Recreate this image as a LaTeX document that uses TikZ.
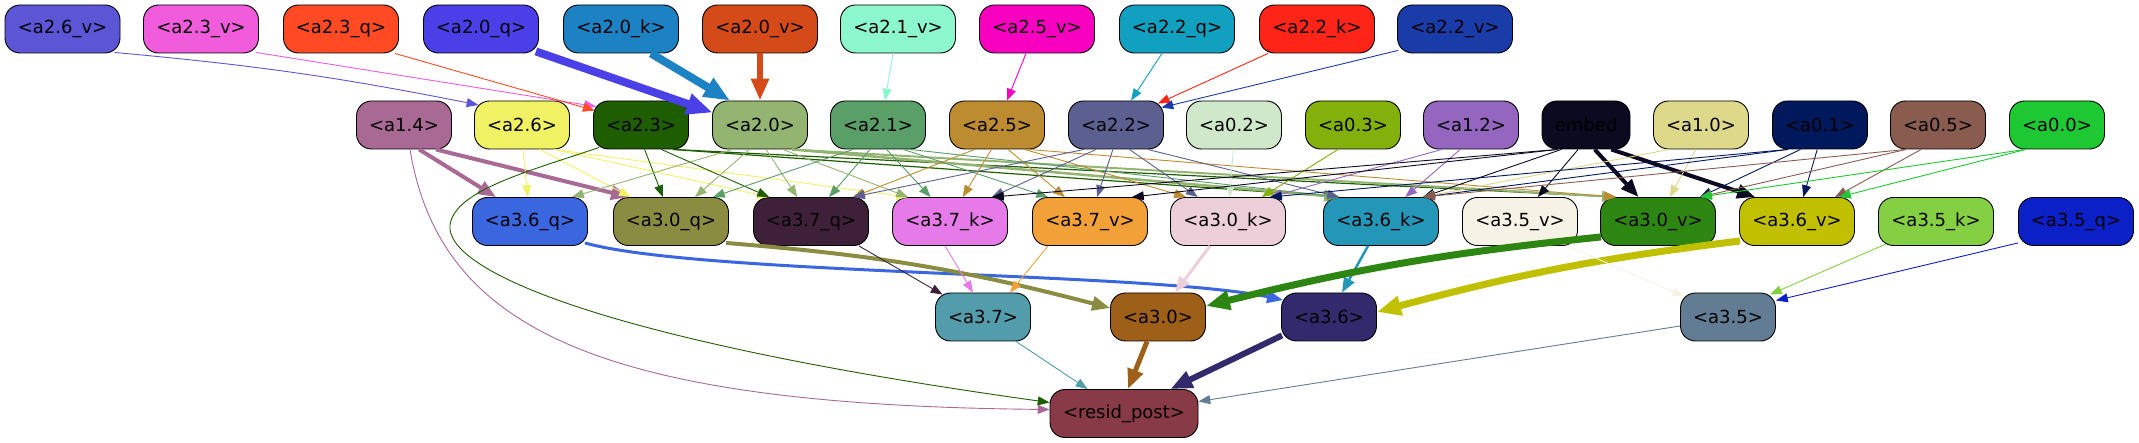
\documentclass[tikz,border=0pt]{standalone}
\usepackage{fontspec}
\setmainfont{DejaVu Sans}
\usetikzlibrary{arrows.meta,calc}
\definecolor{c26v}{HTML}{5C56D6}
\definecolor{c23v}{HTML}{F05CDC}
\definecolor{c23q}{HTML}{FF4A24}
\definecolor{c20q}{HTML}{4B3FE8}
\definecolor{c20k}{HTML}{1C82C4}
\definecolor{c20v}{HTML}{D44A18}
\definecolor{c21v}{HTML}{8CF6CC}
\definecolor{c25v}{HTML}{F800C0}
\definecolor{c22q}{HTML}{12A0C0}
\definecolor{c22k}{HTML}{FF2418}
\definecolor{c22v}{HTML}{1A3CA8}
\definecolor{c14}{HTML}{A86A94}
\definecolor{c26}{HTML}{F0F264}
\definecolor{c23}{HTML}{1E5E00}
\definecolor{c20}{HTML}{94B472}
\definecolor{c21}{HTML}{5A9E68}
\definecolor{c25}{HTML}{BE8C30}
\definecolor{c22}{HTML}{5C6090}
\definecolor{c02}{HTML}{D0E8CA}
\definecolor{c03}{HTML}{84B00C}
\definecolor{c12}{HTML}{9466C0}
\definecolor{cemb}{HTML}{0C0A20}
\definecolor{c10}{HTML}{DED88A}
\definecolor{c01}{HTML}{00185C}
\definecolor{c05}{HTML}{8A5C50}
\definecolor{c00}{HTML}{1EC832}
\definecolor{c36q}{HTML}{3A66E0}
\definecolor{c30q}{HTML}{8A8C42}
\definecolor{c37q}{HTML}{3E2038}
\definecolor{c37k}{HTML}{E67AE8}
\definecolor{c37v}{HTML}{F2A038}
\definecolor{c30k}{HTML}{ECCFD8}
\definecolor{c36k}{HTML}{2496B8}
\definecolor{c35v}{HTML}{F6F2E6}
\definecolor{c30v}{HTML}{2E8612}
\definecolor{c36v}{HTML}{C0C000}
\definecolor{c35k}{HTML}{84D042}
\definecolor{c35q}{HTML}{0C20C8}
\definecolor{c37}{HTML}{529CAC}
\definecolor{c30}{HTML}{9E6018}
\definecolor{c36}{HTML}{322A6C}
\definecolor{c35}{HTML}{627C94}
\definecolor{cres}{HTML}{883A46}
\newcommand\edgeX[4][0.9pt]{%
 \draw[ed=#1, draw=#2] let \p1=(#3.south), \p2=(#4.north), \p3=(#3.south east), \p4=(#4.north east),
   \n1={max(min(0.12*(\x2-\x1),\x3-\x1-16),\x1-\x3+16)},
   \n2={max(min(-0.27*(\x2-\x1),\x4-\x2-16),\x2-\x4+16)}
   in (\x1+\n1,\y1) -- (\x2+\n2,\y2);}
\begin{document}
\begin{tikzpicture}[x=1pt,y=1pt,
  nd/.style={draw=black, line width=0.9pt, rounded corners=15pt, minimum height=48pt, inner sep=0pt, text=black, font=\fontsize{18}{21}\selectfont},
  wq/.style={nd, minimum width=115pt},
  wr/.style={nd, minimum width=95pt},
  ed/.style={line width=#1, -{Triangle[length=10pt 2, width=7.5pt 1.6]}}]
\useasboundingbox (0,0) rectangle (2139,-443);
% row 1
\node[wq, fill=c26v] (v26) at (62.5,-29) {<a2.6\_v>};
\node[wq, fill=c23v] (v23) at (201,-29) {<a2.3\_v>};
\node[wq, fill=c23q] (q23) at (341,-29) {<a2.3\_q>};
\node[wq, fill=c20q] (q20) at (481,-29) {<a2.0\_q>};
\node[wq, fill=c20k] (k20) at (621,-29) {<a2.0\_k>};
\node[wq, fill=c20v] (v20) at (760,-29) {<a2.0\_v>};
\node[wq, fill=c21v] (v21) at (898,-29) {<a2.1\_v>};
\node[wq, fill=c25v] (v25) at (1037,-29) {<a2.5\_v>};
\node[wq, fill=c22q] (q22) at (1177,-29) {<a2.2\_q>};
\node[wq, fill=c22k] (k22) at (1317,-29) {<a2.2\_k>};
\node[wq, fill=c22v] (v22) at (1455,-29) {<a2.2\_v>};
% row 2
\node[wr, fill=c14] (n14) at (404,-125) {<a1.4>};
\node[wr, fill=c26] (n26) at (522,-125) {<a2.6>};
\node[wr, fill=c23] (n23) at (641,-125) {<a2.3>};
\node[wr, fill=c20] (n20) at (760,-125) {<a2.0>};
\node[wr, fill=c21] (n21) at (878,-125) {<a2.1>};
\node[wr, fill=c25] (n25) at (997,-125) {<a2.5>};
\node[wr, fill=c22] (n22) at (1116,-125) {<a2.2>};
\node[wr, fill=c02] (n02) at (1234,-125) {<a0.2>};
\node[wr, fill=c03] (n03) at (1353,-125) {<a0.3>};
\node[wr, fill=c12] (n12) at (1471,-125) {<a1.2>};
\node[nd, minimum width=88pt, fill=cemb] (emb) at (1586,-125) {embed};
\node[wr, fill=c10] (n10) at (1701,-125) {<a1.0>};
\node[wr, fill=c01] (n01) at (1820,-125) {<a0.1>};
\node[wr, fill=c05] (n05) at (1938,-125) {<a0.5>};
\node[wr, fill=c00] (n00) at (2057,-125) {<a0.0>};
% row 3
\node[wq, fill=c36q] (q36) at (530,-221.5) {<a3.6\_q>};
\node[wq, fill=c30q] (q30) at (671,-221.5) {<a3.0\_q>};
\node[wq, fill=c37q] (q37) at (811,-221.5) {<a3.7\_q>};
\node[wq, fill=c37k] (k37) at (950,-221.5) {<a3.7\_k>};
\node[wq, fill=c37v] (v37) at (1090,-221.5) {<a3.7\_v>};
\node[wq, fill=c30k] (k30) at (1228,-221.5) {<a3.0\_k>};
\node[wq, fill=c36k] (k36) at (1381,-221.5) {<a3.6\_k>};
\node[wq, fill=c35v] (v35) at (1520,-221.5) {<a3.5\_v>};
\node[wq, fill=c30v] (v30) at (1658,-221.5) {<a3.0\_v>};
\node[wq, fill=c36v] (v36) at (1797,-221.5) {<a3.6\_v>};
\node[wq, fill=c35k] (k35) at (1936,-221.5) {<a3.5\_k>};
\node[wq, fill=c35q] (q35) at (2076,-221.5) {<a3.5\_q>};
% row 4
\node[wr, fill=c37] (n37) at (983,-317) {<a3.7>};
\node[wr, fill=c30] (n30) at (1158,-317) {<a3.0>};
\node[wr, fill=c36] (n36) at (1329,-317) {<a3.6>};
\node[wr, fill=c35] (n35) at (1728,-317) {<a3.5>};
\node[nd, minimum width=148pt, fill=cres] (res) at (1124,-413.5) {<resid\_post>};
% row1 -> row2
\draw[ed=0.9pt, draw=c26v] ([xshift=-6pt,yshift=1pt]v26.south east) to[bend left=3] ([xshift=4.4pt,yshift=-4.4pt]n26.north west);
\draw[ed=0.9pt, draw=c23v] ([xshift=-3pt,yshift=1pt]v23.south east) -- ([xshift=3pt,yshift=-6pt]n23.north west);
\draw[ed=0.9pt, draw=c23q] ([xshift=-4pt]q23.south east) -- ([xshift=1.6pt,yshift=-10pt]n23.north west);
\draw[ed=8pt, draw=c20q] ([xshift=-3pt,yshift=2pt]q20.south east) -- ([xshift=0.5pt,yshift=-12pt]n20.north west);
\draw[ed=8pt, draw=c20k] ([xshift=30pt]k20.south) -- ([xshift=-30pt]n20.north);
\draw[ed=6pt, draw=c20v] (v20.south) -- (n20.north);
\draw[ed=0.9pt, draw=c21v] ([xshift=-5pt]v21.south) -- ([xshift=7pt]n21.north);
\draw[ed=0.9pt, draw=c25v] ([xshift=-11pt]v25.south) -- ([xshift=10pt]n25.north);
\draw[ed=0.9pt, draw=c22q] ([xshift=-15pt]q22.south) -- ([xshift=15pt]n22.north);
\draw[ed=0.9pt, draw=c22k] ([xshift=-49pt]k22.south) -- ([xshift=-6pt,yshift=-3pt]n22.north east);
\draw[ed=0.9pt, draw=c22v] ([xshift=1pt,yshift=3pt]v22.south west) -- ([xshift=-2.5pt,yshift=-7pt]n22.north east);
% row2 -> row3
\edgeX[4pt]{c14}{n14}{q36}
\edgeX[4pt]{c14}{n14}{q30}
\edgeX{c26}{n26}{q36}
\edgeX{c26}{n26}{q30}
\edgeX{c26}{n26}{q37}
\edgeX{c26}{n26}{k37}
\edgeX{c23}{n23}{q30}
\edgeX{c23}{n23}{q37}
\edgeX[1.2pt]{c23}{n23}{k36}
\edgeX[1.2pt]{c23}{n23}{v30}
\edgeX{c20}{n20}{q36}
\edgeX{c20}{n20}{q30}
\edgeX{c20}{n20}{q37}
\edgeX{c20}{n20}{k37}
\edgeX[2.5pt]{c20}{n20}{k36}
\edgeX[2pt]{c20}{n20}{v30}
\edgeX{c21}{n21}{q30}
\edgeX{c21}{n21}{q37}
\edgeX{c21}{n21}{k37}
\edgeX{c21}{n21}{v37}
\edgeX{c21}{n21}{k36}
\edgeX{c25}{n25}{q37}
\edgeX{c25}{n25}{k37}
\edgeX{c25}{n25}{v37}
\edgeX{c25}{n25}{k30}
\edgeX{c25}{n25}{v30}
\edgeX{c22}{n22}{q37}
\edgeX{c22}{n22}{k37}
\edgeX{c22}{n22}{v37}
\edgeX{c22}{n22}{k30}
\edgeX{c22}{n22}{k36}
\edgeX{c02}{n02}{k30}
\edgeX{c03}{n03}{k30}
\edgeX{c12}{n12}{k30}
\edgeX{c12}{n12}{k36}
\edgeX{cemb}{emb}{k37}
\edgeX{cemb}{emb}{v37}
\edgeX{cemb}{emb}{k36}
\edgeX{cemb}{emb}{v35}
\edgeX[4pt]{cemb}{emb}{v30}
\edgeX[4pt]{cemb}{emb}{v36}
\edgeX{c10}{n10}{v30}
\edgeX{c10}{n10}{k36}
\edgeX{c01}{n01}{k30}
\edgeX{c01}{n01}{k36}
\edgeX{c01}{n01}{v30}
\edgeX{c01}{n01}{v36}
\edgeX{c05}{n05}{k36}
\edgeX{c05}{n05}{v30}
\edgeX{c05}{n05}{v36}
\edgeX{c00}{n00}{v30}
\edgeX{c00}{n00}{v36}
% skip edges to resid
\draw[ed=0.9pt, draw=c14] ([xshift=6pt]n14.south) .. controls (440,-330) and (600,-405) .. ([yshift=4pt]res.west);
\draw[ed=0.9pt, draw=c23] ([xshift=6pt,yshift=2pt]n23.south west) .. controls (530,-171) and (455,-190) .. (450,-225) .. controls (445,-270) and (600,-340) .. ([yshift=11pt]res.west);
% row3 -> row4
\draw[ed=3pt, draw=c36q] ([xshift=-3pt,yshift=3pt]q36.south east) .. controls (700,-275) and (1150,-272) .. ([xshift=2pt,yshift=-7.5pt]n36.north west);
\draw[ed=4pt, draw=c30q] ([xshift=-3pt,yshift=3pt]q30.south east) to[bend left=5] ([yshift=9pt]n30.west);
\draw[ed=0.9pt, draw=c37q] ([xshift=-10pt]q37.south east) -- ([xshift=7.5pt,yshift=-2pt]n37.north west);
\draw[ed=0.9pt, draw=c37k] ([xshift=-5pt]k37.south) -- ([xshift=-10pt]n37.north);
\draw[ed=0.9pt, draw=c37v] ([xshift=-42pt]v37.south) -- ([xshift=27pt]n37.north);
\draw[ed=3pt, draw=c30k] ([xshift=-18pt]k30.south) -- ([xshift=17pt]n30.north);
\draw[ed=2.5pt, draw=c36k] ([xshift=-13pt]k36.south) -- ([xshift=13pt]n36.north);
\draw[ed=7pt, draw=c30v] ([xshift=1pt,yshift=9pt]v30.south west) to[bend right=4] ([yshift=11pt]n30.east);
\draw[ed=7pt, draw=c36v] ([xshift=1pt,yshift=5pt]v36.south west) to[bend right=4] ([yshift=5pt]n36.east);
\draw[ed=0.9pt, draw=c35v] ([xshift=-10pt]v35.south east) -- ([xshift=4pt,yshift=-4pt]n35.north west);
\draw[ed=0.9pt, draw=c35k] ([xshift=8pt,yshift=2pt]k35.south west) -- ([xshift=-6pt,yshift=-2pt]n35.north east);
\draw[ed=0.9pt, draw=c35q] ([xshift=0pt,yshift=3pt]q35.south west) -- ([yshift=-8pt]n35.north east);
% row4 -> resid
\draw[ed=0.9pt, draw=c37] ([xshift=-15pt]n37.south east) -- ([xshift=38pt]res.north west);
\draw[ed=5pt, draw=c30] ([xshift=-11pt]n30.south) -- ([xshift=4pt]res.north);
\draw[ed=6pt, draw=c36] ([xshift=1pt,yshift=6pt]n36.south west) -- ([xshift=-28pt]res.north east);
\draw[ed=0.9pt, draw=c35] ([yshift=-9pt]n35.west) -- ([yshift=12pt]res.east);
\end{tikzpicture}
\end{document}
